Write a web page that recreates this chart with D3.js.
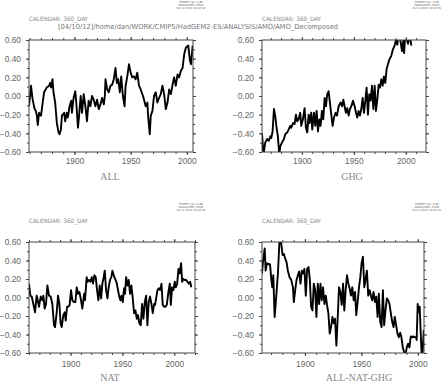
<!DOCTYPE html>
<html><head><meta charset="utf-8">
<script src="https://cdn.jsdelivr.net/npm/d3@7/dist/d3.min.js"></script>
<style>
html,body{margin:0;padding:0;background:#fff;}
svg{display:block;}
</style></head>
<body>
<svg id="chart" width="441" height="382"></svg>
<script>
// ---------------- DATA ----------------
const allYears = [1859.5,1861.3,1862.5,1864.3,1865.5,1866.4,1867.3,1868.5,1870.2,1871.7,1872.9,1875.3,1877.4,1878.3,1879.2,1880.4,1881.3,1882.8,1884.3,1885.8,1886.7,1887.9,1888.8,1890.8,1891.7,1893.2,1894.1,1895.6,1897.1,1897.7,1899.2,1900.7,1901.6,1903.1,1904.3,1905.5,1906.7,1908.2,1909.7,1911.1,1912.6,1914.1,1915.6,1917.1,1918.6,1920.1,1921.6,1923.1,1924.6,1926.1,1927.0,1927.6,1929.1,1930.5,1932.0,1933.5,1935.0,1936.5,1937.7,1938.9,1940.4,1941.6,1943.1,1944.6,1945.5,1947.0,1948.5,1950.0,1951.4,1952.9,1954.4,1955.9,1957.4,1958.9,1961.0,1963.4,1964.9,1965.5,1967.0,1967.9,1969.4,1970.8,1972.3,1973.8,1975.3,1976.8,1978.3,1979.8,1981.3,1982.8,1984.3,1985.8,1987.3,1988.7,1990.2,1991.7,1993.2,1994.7,1996.2,1997.7,1999.2,2001.3,2002.8,2003.7,2005.2];
const allValues = [-0.11,0.11,-0.02,-0.13,-0.16,-0.20,-0.31,-0.18,-0.21,-0.07,0.04,0.09,0.11,0.14,0.09,0.18,0.04,-0.07,-0.29,-0.39,-0.41,-0.36,-0.21,-0.18,-0.27,-0.18,-0.23,-0.11,-0.05,-0.18,-0.02,0.05,-0.07,-0.34,-0.18,0.00,-0.18,0.02,-0.11,-0.27,-0.05,-0.11,0.00,-0.04,-0.11,-0.04,-0.14,-0.09,-0.02,-0.09,0.00,0.18,0.07,0.04,0.11,0.12,0.18,0.30,0.14,0.18,0.04,0.21,0.00,-0.11,0.11,0.21,0.34,0.25,0.20,0.21,0.18,0.25,0.11,0.07,0.00,-0.11,-0.07,-0.21,-0.41,-0.21,-0.16,0.00,0.04,-0.07,-0.02,0.02,0.11,0.02,-0.14,-0.07,0.07,0.02,0.12,0.20,0.11,0.23,0.20,0.27,0.30,0.45,0.52,0.54,0.38,0.34,0.54];

const ghgYears = [1861.6,1863.0,1864.7,1866.6,1868.2,1869.8,1870.5,1871.8,1873.1,1874.3,1875.6,1876.9,1878.2,1879.2,1880.8,1882.7,1884.0,1885.9,1887.2,1888.8,1889.8,1891.4,1893.0,1894.3,1895.5,1896.8,1898.4,1899.4,1901.0,1902.6,1903.9,1905.2,1906.5,1907.4,1909.0,1910.0,1911.6,1912.9,1914.2,1915.5,1916.8,1918.0,1919.3,1920.6,1921.9,1923.2,1924.4,1925.7,1927.0,1928.3,1929.6,1930.9,1932.5,1933.8,1935.4,1937.3,1938.6,1939.9,1941.1,1942.4,1943.7,1945.0,1946.3,1947.6,1949.2,1950.8,1952.1,1953.3,1954.6,1955.9,1957.2,1958.5,1959.8,1961.1,1962.3,1963.6,1964.9,1966.2,1967.5,1968.8,1970.1,1971.3,1972.6,1973.9,1975.2,1976.5,1977.8,1979.0,1980.3,1981.6,1982.9,1984.2,1986.1,1987.7,1989.3,1990.6,1991.9,1993.2,1994.5,1996.4,1997.7,1998.4,1999.6,2002.2,2003.8,2005.4];
const ghgValues = [-0.40,-0.63,-0.50,-0.46,-0.48,-0.43,-0.45,-0.38,-0.14,-0.21,-0.34,-0.43,-0.63,-0.54,-0.50,-0.46,-0.41,-0.39,-0.36,-0.32,-0.34,-0.29,-0.30,-0.20,-0.27,-0.25,-0.18,-0.32,-0.25,-0.13,-0.34,-0.39,-0.20,-0.29,-0.18,-0.36,-0.18,-0.32,-0.16,-0.38,-0.25,-0.32,-0.16,-0.25,-0.02,-0.11,0.02,0.05,-0.07,-0.20,-0.32,-0.23,-0.18,-0.21,-0.11,-0.07,-0.11,-0.04,-0.11,-0.18,-0.13,-0.21,-0.14,-0.11,-0.05,-0.11,-0.18,-0.23,-0.16,-0.21,-0.14,-0.02,-0.18,-0.05,0.09,-0.20,0.02,-0.05,0.11,-0.14,0.11,-0.16,-0.04,0.12,0.09,0.18,0.11,0.21,0.14,0.29,0.34,0.39,0.43,0.50,0.54,0.60,0.55,0.66,0.62,0.48,0.60,0.46,0.66,0.56,0.66,0.54];

const natYears = [1860.0,1861.3,1862.6,1864.2,1865.8,1867.4,1868.4,1869.6,1871.3,1872.9,1873.8,1875.1,1876.4,1877.7,1879.3,1880.9,1882.5,1884.1,1885.1,1886.7,1888.0,1889.3,1890.5,1891.5,1893.1,1894.4,1895.4,1896.7,1897.9,1899.2,1900.5,1901.8,1903.4,1904.7,1906.0,1907.3,1908.6,1909.8,1911.4,1913.1,1914.0,1915.6,1916.6,1917.9,1919.2,1920.5,1921.7,1923.0,1924.3,1925.6,1926.9,1928.2,1929.5,1930.7,1932.0,1933.0,1934.3,1935.6,1936.8,1938.1,1939.4,1940.4,1941.7,1943.0,1944.2,1945.5,1946.8,1948.1,1949.1,1950.4,1951.6,1952.6,1953.6,1954.9,1956.1,1957.4,1958.7,1960.0,1961.3,1962.6,1963.9,1965.1,1966.4,1967.7,1969.0,1970.3,1971.6,1972.9,1974.1,1975.4,1976.7,1978.0,1979.3,1980.6,1981.5,1982.8,1983.8,1985.1,1986.4,1987.7,1988.9,1990.2,1991.5,1992.8,1994.4,1995.7,1996.7,1997.9,1999.2,2000.5,2001.5,2002.8,2004.1,2005.3,2006.6,2007.6,2008.9,2010.2,2011.4,2012.7,2014.0,2015.3,2016.5];
const natValues = [0.15,0.02,0.01,-0.07,-0.16,0.02,-0.03,-0.10,0.01,-0.03,0.02,-0.12,-0.07,0.13,0.02,0.01,-0.07,-0.30,-0.32,-0.16,0.02,-0.07,-0.28,-0.32,-0.19,-0.16,-0.25,-0.10,-0.10,-0.08,0.08,-0.03,-0.05,-0.05,0.11,0.04,0.06,-0.01,-0.12,0.04,-0.03,0.22,0.17,0.19,0.17,0.22,0.15,0.24,0.22,0.08,-0.03,0.13,-0.01,0.15,0.22,0.29,0.08,-0.01,0.11,0.19,0.22,0.29,0.24,0.20,0.17,0.10,0.02,-0.03,0.02,-0.05,0.10,0.04,0.22,0.13,0.19,0.04,0.13,-0.01,-0.17,-0.14,-0.23,-0.19,-0.28,-0.30,-0.07,-0.23,-0.05,0.02,-0.30,-0.05,0.01,-0.07,-0.17,-0.07,-0.08,0.01,0.08,0.10,0.08,0.15,-0.08,-0.10,-0.10,-0.08,0.06,0.15,-0.08,0.11,0.08,0.17,0.11,0.15,0.31,0.26,0.37,0.17,0.20,0.19,0.19,0.17,0.15,0.17,0.11];

const resYears = [1862.0,1863.0,1864.4,1865.2,1866.4,1867.9,1869.1,1870.2,1871.1,1872.0,1873.2,1874.6,1876.1,1877.6,1879.1,1880.2,1881.4,1882.6,1883.8,1884.9,1886.4,1887.9,1889.4,1890.2,1891.4,1892.6,1893.8,1894.9,1896.1,1897.3,1898.5,1899.6,1900.8,1902.0,1903.2,1904.4,1905.5,1906.7,1907.9,1909.1,1910.2,1911.4,1912.6,1913.8,1914.9,1916.1,1917.3,1918.5,1919.6,1920.8,1922.0,1923.2,1924.4,1925.5,1926.7,1927.9,1929.1,1930.2,1931.4,1932.6,1933.8,1934.9,1936.1,1937.3,1938.5,1939.6,1940.8,1942.0,1943.2,1944.4,1945.5,1946.7,1947.9,1949.1,1950.2,1951.4,1952.6,1953.8,1954.9,1956.1,1957.3,1958.5,1959.6,1960.8,1962.0,1963.2,1964.4,1965.5,1966.7,1967.9,1969.1,1970.2,1971.4,1972.6,1973.8,1974.9,1976.1,1977.3,1978.5,1979.6,1980.8,1982.0,1983.2,1984.4,1985.5,1986.7,1987.9,1989.1,1990.2,1991.4,1992.6,1993.8,1994.9,1996.1,1997.3,1998.5,1999.0,1999.9,2000.8,2001.7,2002.6,2003.5,2004.4,2005.3];
const resValues = [0.26,0.40,0.53,0.29,0.37,0.36,0.36,0.20,0.11,0.24,-0.21,0.01,0.26,0.64,0.58,0.46,0.47,0.42,0.38,0.29,0.22,0.19,0.11,-0.05,0.08,0.19,0.24,0.28,0.15,0.29,0.26,0.31,0.02,0.31,0.33,0.19,-0.10,-0.14,0.15,0.08,-0.21,0.15,-0.07,0.15,-0.03,0.11,-0.07,0.02,-0.08,-0.17,-0.39,-0.32,-0.21,-0.28,-0.23,-0.52,-0.21,0.11,0.06,-0.08,0.15,-0.14,0.08,0.24,0.15,0.10,0.02,0.11,-0.03,0.06,-0.19,-0.05,0.11,0.22,0.37,0.44,0.11,0.20,0.29,0.02,0.08,0.02,-0.03,0.06,-0.05,0.01,-0.21,0.04,-0.26,-0.32,0.08,-0.30,-0.14,-0.01,-0.03,-0.07,-0.17,-0.26,-0.32,-0.21,-0.30,-0.39,-0.43,-0.38,-0.43,-0.54,-0.59,-0.63,-0.54,-0.50,-0.54,-0.42,-0.43,-0.42,-0.43,-0.43,-0.46,-0.07,-0.16,-0.10,-0.39,-0.63,-0.57,-0.35];

const yTickValues = [-0.6,-0.4,-0.2,0.0,0.2,0.4,0.6];
const xTickYears = [1900,1950,2000];
const panelTitles = ["ALL","GHG","NAT","ALL-NAT-GHG"];
const calendarLabel = "CALENDAR: 360_DAY";
const pathLabel = "[04/10/12]/home/dan/WORK/CMIP5/HadGEM2-ES/ANALYSIS/AMO/AMO_Decomposed";
const stampLines = ["FERRET Ver. 6.82","NOAA/PMEL TMAP","Oct  4 2012 16:24:34"];

// ---------------- LAYOUT ----------------
const svg = d3.select("#chart");
const panels = [
  {title:panelTitles[0], years:allYears, values:allValues, dom:[1859.5,2005.5], x0:29, x1:193, y0:40, y1:152, titleX:110, titleY:180, tickLabelY:163.5, calY:21, stampX:191, stampY:3},
  {title:panelTitles[1], years:ghgYears, values:ghgValues, dom:[1861.6,2019.5], x0:262, x1:426, y0:40, y1:152, titleX:352, titleY:180, tickLabelY:163.5, calY:21, stampX:427, stampY:3},
  {title:panelTitles[2], years:natYears, values:natValues, dom:[1860,2020], x0:29, x1:195, y0:242, y1:353, titleX:110, titleY:381, tickLabelY:367, calY:223, stampX:191, stampY:205},
  {title:panelTitles[3], years:resYears, values:resValues, dom:[1862,2005.5], x0:262, x1:424, y0:242, y1:353, titleX:359, titleY:381, tickLabelY:367, calY:223, stampX:427, stampY:205}
];

const fmt = d3.format(".2f");

panels.forEach((p, i) => {
  const x = d3.scaleLinear().domain(p.dom).range([p.x0, p.x1]);
  const y = d3.scaleLinear().domain([-0.6, 0.6]).range([p.y1, p.y0]);
  const g = svg.append("g");

  // header texts
  g.append("text").attr("x", p.x0).attr("y", p.calY)
    .attr("font-family","DejaVu Sans, sans-serif").attr("font-size",6)
    .attr("fill","#8a8a8a").attr("textLength",59).attr("lengthAdjust","spacingAndGlyphs")
    .text(calendarLabel);
  if (i === 0) {
    g.append("text").attr("x", 58).attr("y", 29)
      .attr("font-family","DejaVu Sans, sans-serif").attr("font-size",7)
      .attr("fill","#777").attr("textLength",280).attr("lengthAdjust","spacingAndGlyphs")
      .text(pathLabel);
  }
  stampLines.forEach((s, k) => {
    g.append("text").attr("x", p.stampX).attr("y", p.stampY + k*3)
      .attr("text-anchor","middle").attr("font-family","DejaVu Sans, sans-serif")
      .attr("font-size",2.8).attr("fill","#666").text(s);
  });

  // clip
  const cid = "clip" + i;
  svg.append("clipPath").attr("id", cid).append("rect")
    .attr("x", p.x0).attr("y", p.y0).attr("width", p.x1 - p.x0).attr("height", p.y1 - p.y0);

  // data line
  const pts = p.years.map((yr, k) => [yr, p.values[k]]);
  g.append("path").datum(pts).attr("clip-path", `url(#${cid})`)
    .attr("fill","none").attr("stroke","#000").attr("stroke-width",1.9)
    .attr("stroke-linejoin","round")
    .attr("d", d3.line().x(d => x(d[0])).y(d => y(d[1])));

  // frame
  g.append("rect").attr("x", p.x0).attr("y", p.y0)
    .attr("width", p.x1 - p.x0).attr("height", p.y1 - p.y0)
    .attr("fill","none").attr("stroke","#444").attr("stroke-width",1);

  // y axes (left labels, right ticks), minor every 0.1
  const yMinor = d3.range(-6, 7).map(v => v / 10);
  const axL = d3.axisLeft(y).tickValues(yTickValues).tickFormat(fmt).tickSize(3).tickPadding(5);
  const gl = g.append("g").attr("transform", `translate(${p.x0},0)`).call(axL);
  const axR = d3.axisRight(y).tickValues(yMinor).tickFormat("").tickSize(2);
  const gr = g.append("g").attr("transform", `translate(${p.x1},0)`).call(axR);
  const axLm = d3.axisLeft(y).tickValues(yMinor).tickFormat("").tickSize(2);
  const glm = g.append("g").attr("transform", `translate(${p.x0},0)`).call(axLm);
  const axR2 = d3.axisRight(y).tickValues(yTickValues).tickFormat("").tickSize(3);
  const gr2 = g.append("g").attr("transform", `translate(${p.x1},0)`).call(axR2);

  // x axes: major 50 yr, minor 10 yr
  const xMinor = d3.range(1860, 2021, 10).filter(v => v >= p.dom[0] && v <= p.dom[1]);
  const axB = d3.axisBottom(x).tickValues(xTickYears).tickFormat(d3.format("d")).tickSize(3).tickPadding(4);
  const gb = g.append("g").attr("transform", `translate(0,${p.y1})`).call(axB);
  const axBm = d3.axisBottom(x).tickValues(xMinor).tickFormat("").tickSize(2);
  const gbm = g.append("g").attr("transform", `translate(0,${p.y1})`).call(axBm);
  const axT = d3.axisTop(x).tickValues(xMinor).tickFormat("").tickSize(2);
  const gt = g.append("g").attr("transform", `translate(0,${p.y0})`).call(axT);
  const axT2 = d3.axisTop(x).tickValues(xTickYears).tickFormat("").tickSize(3);
  const gt2 = g.append("g").attr("transform", `translate(0,${p.y0})`).call(axT2);

  [gl, gr, glm, gr2, gb, gbm, gt, gt2].forEach(a => {
    a.select(".domain").remove();
    a.selectAll(".tick line").attr("stroke","#444").attr("stroke-width",1);
    a.selectAll(".tick text").attr("fill","#666")
      .attr("font-family","Liberation Sans, Arial, sans-serif").attr("font-size",8.4);
  });
  gb.selectAll(".tick text").attr("y", null).attr("dy", null)
    .attr("transform", `translate(0,${p.tickLabelY - p.y1})`);

  // title
  g.append("text").attr("x", p.titleX).attr("y", p.titleY)
    .attr("text-anchor","middle").attr("font-family","Liberation Serif, Times New Roman, serif")
    .attr("font-size",10).attr("fill","#888").text(p.title);
});
</script>
</body></html>
